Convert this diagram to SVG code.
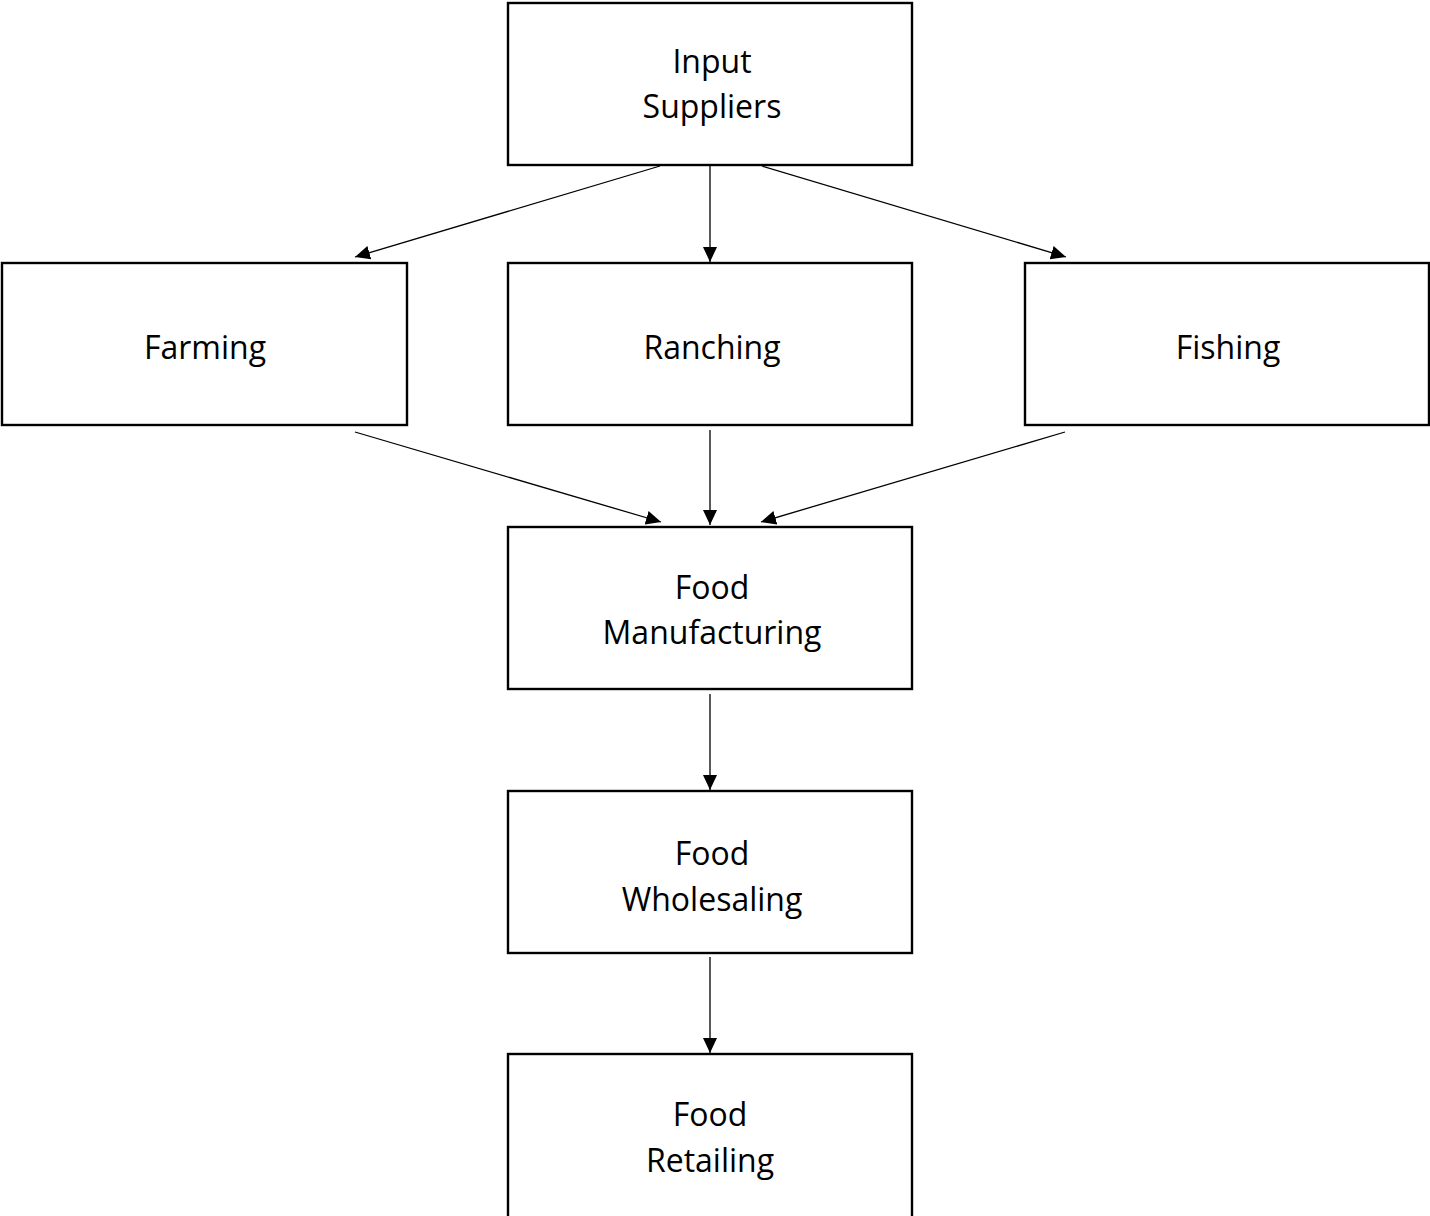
<svg xmlns="http://www.w3.org/2000/svg" width="1430" height="1216" viewBox="0 0 1430 1216">
<style>
.box{fill:#fff;stroke:#000;stroke-width:2.4}
.lbl{font-family:"Open Sans","Liberation Sans",sans-serif;font-size:32px;fill:#000;text-anchor:middle}
.con{stroke:#000;stroke-width:1.3;fill:none;marker-end:url(#ah)}
</style>
<defs>
<marker id="ah" markerUnits="userSpaceOnUse" markerWidth="16" markerHeight="14" refX="15" refY="7" orient="auto">
<path d="M0,0 L15,7 L0,14 Z" fill="#000"/>
</marker>
</defs>
<rect width="1430" height="1216" fill="#fff"/>
<g id="connectors">
<line class="con" x1="660" y1="166" x2="355" y2="257"/>
<line class="con" x1="710" y1="166" x2="710" y2="262"/>
<line class="con" x1="762" y1="166" x2="1066" y2="257"/>
<line class="con" x1="355" y1="432" x2="661" y2="522"/>
<line class="con" x1="710" y1="430" x2="710" y2="525"/>
<line class="con" x1="1065" y1="432" x2="761" y2="522"/>
<line class="con" x1="710" y1="694" x2="710" y2="790"/>
<line class="con" x1="710" y1="957" x2="710" y2="1053"/>
</g>
<g id="input-suppliers">
<rect class="box" x="508" y="3" width="404" height="162"/>
<text class="lbl" x="712" y="73">Input</text>
<text class="lbl" x="712" y="118">Suppliers</text>
</g>
<g id="farming">
<rect class="box" x="2" y="263" width="405" height="162"/>
<text class="lbl" x="205" y="359">Farming</text>
</g>
<g id="ranching">
<rect class="box" x="508" y="263" width="404" height="162"/>
<text class="lbl" x="712" y="359">Ranching</text>
</g>
<g id="fishing">
<rect class="box" x="1025" y="263" width="404" height="162"/>
<text class="lbl" x="1228" y="359">Fishing</text>
</g>
<g id="food-manufacturing">
<rect class="box" x="508" y="527" width="404" height="162"/>
<text class="lbl" x="712" y="599">Food</text>
<text class="lbl" x="712" y="644">Manufacturing</text>
</g>
<g id="food-wholesaling">
<rect class="box" x="508" y="791" width="404" height="162"/>
<text class="lbl" x="712" y="865">Food</text>
<text class="lbl" x="712" y="911">Wholesaling</text>
</g>
<g id="food-retailing">
<rect class="box" x="508" y="1054" width="404" height="175"/>
<text class="lbl" x="710" y="1126">Food</text>
<text class="lbl" x="710" y="1172">Retailing</text>
</g>
</svg>
